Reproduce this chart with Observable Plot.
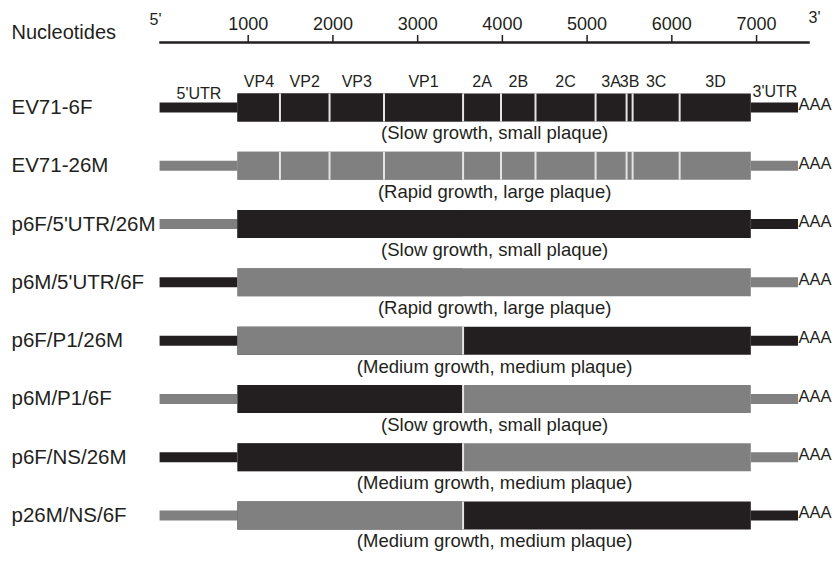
<!DOCTYPE html>
<html>
<head>
<meta charset="utf-8">
<script src="https://cdn.jsdelivr.net/npm/d3@7"></script>
<script src="https://cdn.jsdelivr.net/npm/@observablehq/plot@0.6"></script>
<style>
  html, body { margin: 0; padding: 0; background: #fff; }
  #chart svg { display: block; }
</style>
</head>
<body>
<div id="chart"></div>
<script>
// Constructs (parental strains and chimeras) and their phenotypes
const strains = [
  "EV71-6F", "EV71-26M", "p6F/5'UTR/26M", "p6M/5'UTR/6F",
  "p6F/P1/26M", "p6M/P1/6F", "p6F/NS/26M", "p26M/NS/6F"
];
const phenotypes = [
  "(Slow growth, small plaque)", "(Rapid growth, large plaque)",
  "(Slow growth, small plaque)", "(Rapid growth, large plaque)",
  "(Medium growth, medium plaque)", "(Slow growth, small plaque)",
  "(Medium growth, medium plaque)", "(Medium growth, medium plaque)"
];
const parental = ["EV71-6F", "EV71-26M"];

// Origin of each genome part in every construct
const utr5Origin = ["6F", "26M", "26M", "6F", "6F", "26M", "6F", "26M"];
const p1Origin   = ["6F", "26M", "6F", "26M", "26M", "6F", "6F", "26M"];
const nsOrigin   = ["6F", "26M", "6F", "26M", "6F", "26M", "26M", "6F"];
const utr3Origin = ["6F", "26M", "6F", "26M", "6F", "26M", "26M", "6F"];

// Genome map (nucleotide positions as drawn)
const regionNames  = ["5'UTR", "VP4", "VP2", "VP3", "VP1", "2A", "2B", "2C", "3A", "3B", "3C", "3D", "3'UTR"];
const regionStarts = [-40, 879, 1375, 1960, 2603, 3536, 3984, 4391, 5100, 5466, 5537, 6092, 6938];
const genomeEnd = 7495;

// Nucleotide ruler
const axisStart = -35;
const axisEnd = 7613;
const rulerTicks = [1000, 2000, 3000, 4000, 5000, 6000, 7000];

const dark = "#231f20";
const grey = "#808080";

const regions = regionNames.map((name, i) => ({
  name,
  start: regionStarts[i],
  end: i + 1 < regionStarts.length ? regionStarts[i + 1] : genomeEnd
}));
const genes = regions.filter(r => !r.name.includes("UTR"));
const utrs = regions.filter(r => r.name.includes("UTR"));
const p1Start = regions.find(r => r.name === "VP4").start;
const nsStart = regions.find(r => r.name === "2A").start;
const utr3Start = regions.find(r => r.name === "3'UTR").start;

const rows = strains.map((name, i) => ({i, name}));

// White notches: gene borders on parental genomes, P1/NS junction on chimeras
const notches = [];
rows.forEach(({i, name}) => {
  if (parental.includes(name)) {
    genes.slice(1).forEach(g => notches.push({row: i, x: g.start}));
  } else if (p1Origin[i] !== nsOrigin[i]) {
    notches.push({row: i, x: nsStart});
  }
});
const notch = {draw(ctx) { ctx.moveTo(0, -14); ctx.lineTo(0, 14); }};

const font = "'Liberation Sans', Arial, Helvetica, sans-serif";

const chart = Plot.plot({
  width: 835,
  height: 577,
  marginLeft: 160,
  marginRight: 27,
  marginTop: 42,
  marginBottom: 0,
  style: {fontFamily: font, color: dark, background: "#fff", overflow: "visible"},
  x: {domain: [axisStart, axisEnd]},
  y: {domain: [0, strains.length - 1], range: [107, 515], axis: null},
  color: {domain: ["6F", "26M"], range: [dark, grey]},
  marks: [
    Plot.frame({anchor: "top", stroke: dark, strokeWidth: 2.5}),
    Plot.axisX(rulerTicks, {
      anchor: "top", tickSize: 8, tickPadding: 5, tickFormat: "d",
      fontSize: 18, strokeWidth: 1.5, label: null
    }),
    Plot.text(["5'"], {frameAnchor: "top-left", lineAnchor: "middle", dx: -11, dy: -23, fontSize: 16}),
    Plot.text(["3'"], {frameAnchor: "top-right", lineAnchor: "middle", dx: 12, dy: -24.5, fontSize: 16}),
    Plot.text(["Nucleotides"], {frameAnchor: "top-left", lineAnchor: "middle", textAnchor: "start", dx: -149, dy: -10, fontSize: 20}),

    // 5' UTR, coding region (non-structural part underneath, P1 on top) and 3' UTR
    Plot.ruleY(rows, {y: "i", x1: regionStarts[0], x2: p1Start, stroke: d => utr5Origin[d.i], strokeWidth: 10}),
    Plot.ruleY(rows, {y: "i", x1: p1Start, x2: utr3Start, stroke: d => nsOrigin[d.i], strokeWidth: 28}),
    Plot.ruleY(rows, {y: "i", x1: p1Start, x2: nsStart, stroke: d => p1Origin[d.i], strokeWidth: 28}),
    Plot.ruleY(rows, {y: "i", x1: utr3Start, x2: genomeEnd, stroke: d => utr3Origin[d.i], strokeWidth: 10}),
    Plot.dot(notches, {x: "x", y: "row", symbol: notch, stroke: "#e4e4e4", strokeWidth: 2, fill: "none"}),

    // Region names above the first genome
    Plot.text(genes, {x: d => (d.start + d.end) / 2, y: () => 0, text: "name", dy: -25.5, fontSize: 16}),
    Plot.text(utrs.slice(0, 1), {x: d => (d.start + d.end) / 2, y: () => 0, text: "name", dy: -14, fontSize: 16}),
    Plot.text(utrs.slice(1), {x: d => (d.start + d.end) / 2, y: () => 0, text: "name", dy: -16, fontSize: 16}),

    // Poly(A) tail
    Plot.text(rows, {x: genomeEnd, y: "i", text: () => "AAA", textAnchor: "start", dy: -2.5, fontSize: 16.5}),

    // Construct names and phenotypes
    Plot.text(rows, {y: "i", text: "name", frameAnchor: "left", textAnchor: "start", dx: -149, fontSize: 20.5}),
    Plot.text(rows, {x: (p1Start + utr3Start) / 2, y: "i", text: d => phenotypes[d.i], dy: 26, fontSize: 18.5})
  ]
});

document.getElementById("chart").appendChild(chart);
</script>
</body>
</html>
